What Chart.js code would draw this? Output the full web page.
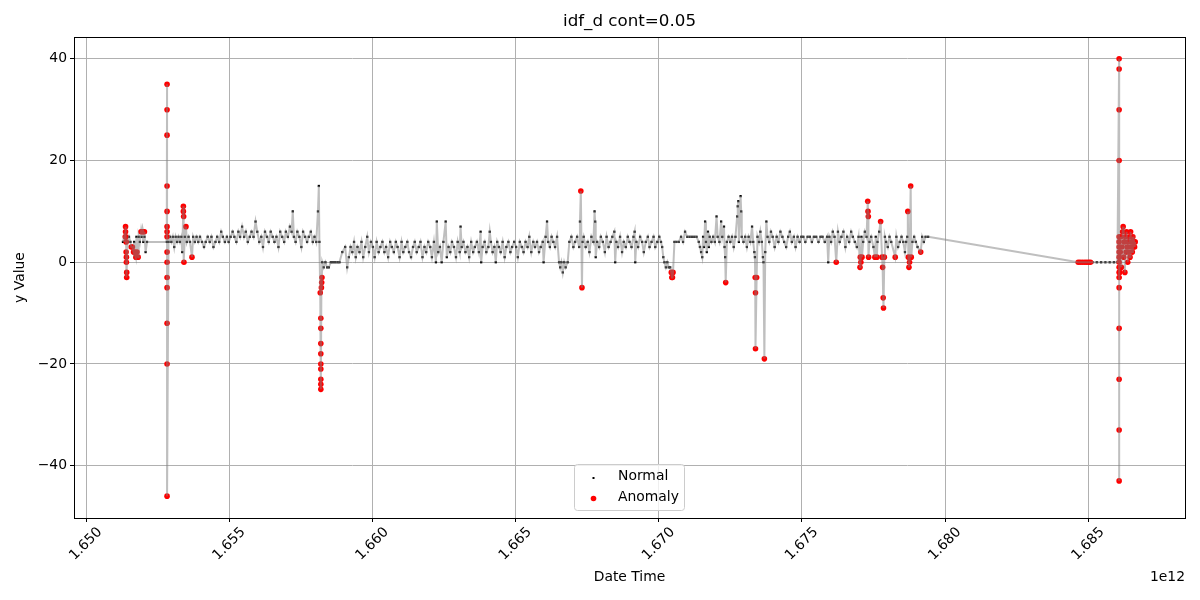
<!DOCTYPE html>
<html>
<head>
<meta charset="utf-8">
<title>idf_d cont=0.05</title>
<script src="https://cdn.jsdelivr.net/npm/chart.js@4.4.1/dist/chart.umd.min.js"></script>
<style>
  html, body { margin: 0; padding: 0; background: #fff; }
  #wrap { width: 1200px; height: 600px; }
</style>
</head>
<body>
<div id="wrap"><canvas id="chart" width="1200" height="600"></canvas></div>
<script>
// time values are stored in units of 1e9 ms, the axis shows them as "x 1e12"
const T_UNIT = 1e9;

const chartTitle = 'idf_d cont=0.05';
const xLabel = 'Date Time';
const yLabel = 'y Value';
const xTicks = [1650, 1655, 1660, 1665, 1670, 1675, 1680, 1685];
const yTicks = [-40, -20, 0, 20, 40];

// normal points [time, value]
const normalEarly = [
  [1651.29,4],[1651.33,5],[1651.36,4],[1651.45,4],[1651.50,5],[1651.55,4],[1651.60,3],[1651.68,4],
  [1651.76,5],[1651.84,5],[1651.88,4],[1651.94,5],[1652.00,4],[1652.04,5],[1652.08,2],[1652.13,4],
  [1652.82,4],[1652.88,4],[1652.93,5],[1652.98,4],[1653.03,5],[1653.08,3],[1653.13,5],[1653.18,4],
  [1653.23,5],[1653.28,4],[1653.33,5],[1653.36,2],[1653.45,5],[1653.52,4],[1653.58,5],[1653.63,4],
  [1653.74,5],[1653.80,4],[1653.86,5],[1653.92,4],[1653.98,5],[1654.05,4],[1654.12,3],[1654.18,4],
  [1654.25,5],[1654.32,4],[1654.38,5],[1654.45,3],[1654.52,4],[1654.58,5],[1654.65,4],[1654.72,6],
  [1654.78,5],[1654.85,4],[1654.92,5],[1654.98,4],[1655.05,5],[1655.12,6],[1655.18,5],[1655.25,4],
  [1655.32,6],[1655.38,5],[1655.45,7],[1655.52,5],[1655.58,6],[1655.65,4],[1655.72,5],[1655.78,6],
  [1655.85,5],[1655.92,8],[1655.98,6],[1656.05,4],[1656.12,5],[1656.18,3],[1656.25,6],[1656.32,5],
  [1656.38,4],[1656.45,6],[1656.52,5],[1656.58,4],[1656.65,5],[1656.72,3],[1656.78,6],[1656.85,5],
  [1656.92,4],[1656.98,6],[1657.05,5],[1657.12,7],[1657.18,6],[1657.22,10],[1657.26,5],[1657.32,4],
  [1657.38,6],[1657.45,5],[1657.52,3],[1657.58,6],[1657.65,5],[1657.72,4],[1657.78,5],[1657.85,6],
  [1657.92,4],[1657.98,5],[1658.04,4],[1658.10,10],[1658.13,15],[1658.15,4]
];

const normalMid = [
  [1658.25,0],[1658.30,-1],[1658.36,0],[1658.42,-1],[1658.48,-1],[1658.55,0],[1658.62,0],[1658.70,0],
  [1658.78,0],[1658.85,0],[1658.95,2],[1659.05,3],[1659.12,-1],[1659.18,1],[1659.24,3],[1659.30,2],
  [1659.36,4],[1659.42,1],[1659.48,3],[1659.55,2],[1659.62,4],[1659.68,1],[1659.75,3],[1659.82,5],
  [1659.88,2],[1659.95,4],[1660.02,3],[1660.08,1],[1660.15,4],[1660.22,2],[1660.28,3],[1660.35,4],
  [1660.42,2],[1660.48,3],[1660.55,1],[1660.62,4],[1660.68,3],[1660.75,2],[1660.82,4],[1660.88,3],
  [1660.95,1],[1661.02,4],[1661.08,2],[1661.15,3],[1661.22,4],[1661.28,2],[1661.35,1],[1661.42,3],
  [1661.48,4],[1661.55,2],[1661.62,3],[1661.68,4],[1661.75,1],[1661.82,3],[1661.88,2],[1661.95,4],
  [1662.02,3],[1662.08,1],[1662.15,4],[1662.22,0],[1662.25,8],[1662.30,2],[1662.36,3],[1662.42,0],
  [1662.48,4],[1662.56,8],[1662.60,1],[1662.66,3],[1662.72,2],[1662.78,4],[1662.85,3],[1662.92,1],
  [1662.98,4],[1663.05,2],[1663.08,7],[1663.12,3],[1663.18,4],[1663.25,2],[1663.32,3],[1663.38,1],
  [1663.45,4],[1663.52,2],[1663.58,3],[1663.65,4],[1663.72,2],[1663.78,6],[1663.80,0],[1663.85,3],
  [1663.92,4],[1663.98,2],[1664.05,3],[1664.10,6],[1664.14,4],[1664.20,2],[1664.26,3],[1664.31,0],
  [1664.36,4],[1664.42,3],[1664.48,2],[1664.55,4],[1664.62,1],[1664.68,3],[1664.75,4],[1664.82,2],
  [1664.88,3],[1664.95,4],[1665.02,3],[1665.08,1],[1665.15,4],[1665.22,3],[1665.28,2],[1665.35,4],
  [1665.42,3],[1665.48,5],[1665.55,2],[1665.62,4],[1665.68,3],[1665.75,4],[1665.82,2],[1665.88,3],
  [1665.95,4],[1665.98,0],[1666.05,5],[1666.10,8],[1666.14,4],[1666.20,3],[1666.26,5],[1666.32,4],
  [1666.38,3],[1666.45,5],[1666.52,0],[1666.56,-1],[1666.60,0],[1666.65,-2],[1666.70,0],[1666.75,-1],
  [1666.82,0],[1666.88,4],[1666.95,5],[1667.02,3],[1667.08,4],[1667.15,5],[1667.22,3],[1667.25,8],
  [1667.34,4],[1667.38,5],[1667.45,3],[1667.52,4],[1667.58,2],[1667.65,5],[1667.72,4],[1667.76,10],
  [1667.78,8],[1667.80,1],[1667.85,4],[1667.92,3],[1667.98,5],[1668.05,4],[1668.12,2],[1668.18,5],
  [1668.25,3],[1668.32,4],[1668.38,5],[1668.45,6],[1668.48,0],[1668.52,4],[1668.58,3],[1668.65,5],
  [1668.72,2],[1668.78,4],[1668.85,3],[1668.92,5],[1668.98,4],[1669.05,3],[1669.12,5],[1669.16,6],
  [1669.18,0],[1669.22,4],[1669.28,3],[1669.35,5],[1669.42,4],[1669.48,2],[1669.55,4],[1669.62,5],
  [1669.68,3],[1669.75,4],[1669.82,5],[1669.88,3],[1669.95,4]
];

const normalLate = [
  [1670.02,5],[1670.08,4],[1670.12,3],[1670.16,1],[1670.20,0],[1670.25,-1],[1670.30,0],[1670.35,-1],
  [1670.40,-1],[1670.55,4],[1670.62,4],[1670.70,4],[1670.78,5],[1670.85,4],[1670.92,6],[1671.00,5],
  [1671.08,5],[1671.16,5],[1671.24,5],[1671.32,5],[1671.40,4],[1671.44,3],[1671.48,2],[1671.52,1],
  [1671.55,5],[1671.58,3],[1671.62,8],[1671.65,4],[1671.68,2],[1671.72,6],[1671.75,3],[1671.78,5],
  [1671.84,4],[1671.90,5],[1671.96,4],[1672.02,9],[1672.06,5],[1672.12,4],[1672.18,8],[1672.22,5],
  [1672.28,7],[1672.30,3],[1672.32,1],[1672.38,4],[1672.44,5],[1672.50,4],[1672.56,5],[1672.62,3],
  [1672.68,5],[1672.74,9],[1672.76,11],[1672.78,12],[1672.80,4],[1672.86,13],[1672.88,10],[1672.90,5],
  [1672.96,4],[1673.02,5],[1673.08,3],[1673.14,5],[1673.20,4],[1673.26,7],[1673.30,4],[1673.34,2],
  [1673.36,1],[1673.45,5],[1673.50,4],[1673.55,6],[1673.60,4],[1673.64,1],[1673.66,0],[1673.72,2],
  [1673.76,8],[1673.80,5],[1673.86,4],[1673.92,6],[1673.98,5],[1674.05,3],[1674.12,5],[1674.18,4],
  [1674.25,6],[1674.32,5],[1674.38,4],[1674.45,3],[1674.52,5],[1674.58,6],[1674.65,4],[1674.72,5],
  [1674.78,3],[1674.85,5],[1674.92,4],[1674.98,5],[1675.05,5],[1675.12,4],[1675.20,5],[1675.28,5],
  [1675.35,4],[1675.42,5],[1675.50,5],[1675.58,4],[1675.65,5],[1675.72,5],[1675.80,4],[1675.88,5],
  [1675.92,0],[1675.96,5],[1676.02,4],[1676.08,6],[1676.14,5],[1676.26,6],[1676.32,4],[1676.38,5],
  [1676.45,6],[1676.52,3],[1676.58,5],[1676.65,4],[1676.72,6],[1676.78,5],[1676.85,4],[1676.92,3],
  [1676.98,5],[1677.08,5],[1677.14,4],[1677.20,6],[1677.26,5],[1677.36,4],[1677.42,5],[1677.50,3],
  [1677.58,5],[1677.64,4],[1677.70,6],[1677.90,5],[1677.94,4],[1678.00,3],[1678.06,5],[1678.12,4],
  [1678.30,5],[1678.36,3],[1678.42,4],[1678.48,5],[1678.54,4],[1678.60,2],[1678.64,4],[1678.68,5],
  [1678.86,4],[1678.92,5],[1678.98,4],[1679.04,3],[1679.20,5],[1679.26,4],[1679.32,5],[1679.41,5]
];

const normalEnd = [
  [1685.15,0],[1685.30,0],[1685.45,0],[1685.60,0],[1685.75,0],[1685.90,0],[1686.02,0]
];

// anomaly points [time, value]
const anomalyEarly = [
  [1651.37,5],[1651.38,7],[1651.38,6],[1651.39,5],[1651.40,4],[1651.40,2],[1651.41,1],[1651.41,0],
  [1651.42,-2],[1651.42,-3],[1651.58,3],[1651.62,3],[1651.66,2],[1651.70,2],[1651.74,1],[1651.78,2],
  [1651.82,1],[1651.92,6],[1651.96,6],[1652.00,6],[1652.04,6],
  [1652.83,35],[1652.83,30],[1652.83,25],[1652.83,15],[1652.83,10],[1652.83,7],[1652.83,6],[1652.83,5],
  [1652.83,2],[1652.83,0],[1652.83,-3],[1652.83,-5],[1652.83,-12],[1652.83,-20],[1652.83,-46],
  [1653.40,11],[1653.40,10],[1653.41,9],[1653.42,0],[1653.49,7],[1653.70,1],
  [1658.18,-6],[1658.20,-11],[1658.20,-13],[1658.20,-16],[1658.20,-18],[1658.20,-20],[1658.20,-21],
  [1658.20,-23],[1658.20,-24],[1658.20,-25],[1658.22,-5],[1658.23,-4],[1658.24,-3]
];

const anomalyMid = [
  [1667.28,14],[1667.32,-5],[1670.44,-2],[1670.46,-3],[1670.48,-3],[1670.50,-2],[1672.34,-4],
  [1673.37,-3],[1673.38,-6],[1673.38,-17],[1673.42,-3],[1673.69,-19],[1676.20,0],
  [1677.03,-1],[1677.04,1],[1677.06,0],[1677.10,1],[1677.30,12],[1677.31,10],[1677.32,9],[1677.33,1],
  [1677.55,1],[1677.62,1],[1677.75,8],[1677.80,1],[1677.82,-1],[1677.84,-7],[1677.85,-9],[1677.88,1],
  [1678.26,1],[1678.70,10],[1678.72,1],[1678.74,-1],[1678.76,0],[1678.80,15],[1678.82,1],[1679.15,2]
];

const anomalyEnd = [
  [1684.65,0],[1684.72,0],[1684.80,0],[1684.88,0],[1684.95,0],[1685.02,0],[1685.08,0],
  [1686.08,40],[1686.08,38],[1686.08,30],[1686.08,20],[1686.08,5],[1686.08,4],[1686.08,3],[1686.08,2],
  [1686.08,1],[1686.08,0],[1686.08,-1],[1686.08,-2],[1686.08,-3],[1686.08,-5],[1686.08,-13],
  [1686.08,-23],[1686.08,-33],[1686.08,-43],
  [1686.10,-2],[1686.12,2],[1686.14,5],[1686.16,-1],[1686.18,3],[1686.20,6],[1686.22,7],[1686.24,1],
  [1686.26,4],[1686.28,-2],[1686.30,5],[1686.32,2],[1686.34,6],[1686.36,3],[1686.38,0],[1686.40,4],
  [1686.42,2],[1686.44,5],[1686.46,1],[1686.48,6],[1686.50,3],[1686.52,4],[1686.54,2],[1686.56,5],
  [1686.58,3],[1686.60,4],[1686.62,3],[1686.64,4]
];

const normalPts = [...normalEarly, ...normalMid, ...normalLate, ...normalEnd];
const anomalyPts = [...anomalyEarly, ...anomalyMid, ...anomalyEnd];

function toXY(list) {
  return list.map(p => ({ x: p[0] * T_UNIT, y: p[1] }));
}

// the grey line runs through every point in time order
const allPts = normalPts.concat(anomalyPts)
  .map((p, i) => ({ t: p[0], y: p[1], i: i }))
  .sort((a, b) => a.t - b.t || a.i - b.i)
  .map(p => [p.t, p.y]);

const tickFont = { family: 'DejaVu Sans', size: 13.9 };
const minus = v => String(v).replace('-', '\u2212');

// frame, title, offset text and the legend box
const decorPlugin = {
  id: 'decor',
  afterDraw(chart) {
    const ctx = chart.ctx;
    const a = chart.chartArea;
    ctx.save();
    ctx.strokeStyle = '#000';
    ctx.lineWidth = 1;
    ctx.strokeRect(Math.round(a.left) + 0.5, Math.round(a.top) + 0.5,
      Math.round(a.right - a.left), Math.round(a.bottom - a.top));

    ctx.fillStyle = '#000';
    ctx.textBaseline = 'middle';
    ctx.textAlign = 'center';
    ctx.font = '16.7px "DejaVu Sans"';
    ctx.fillText(chartTitle, (a.left + a.right) / 2, 22);

    ctx.font = '13.9px "DejaVu Sans"';
    ctx.textAlign = 'right';
    ctx.fillText('1e12', a.right, 577);

    // legend
    const lx = 574.5, ly = 464.5, lw = 110, lh = 46;
    ctx.beginPath();
    ctx.roundRect(lx, ly, lw, lh, 3);
    ctx.fillStyle = 'rgba(255,255,255,0.8)';
    ctx.fill();
    ctx.strokeStyle = '#cccccc';
    ctx.stroke();

    ctx.fillStyle = '#000';
    ctx.fillRect(592.5, 477, 2, 2);
    ctx.fillStyle = '#ff0000';
    ctx.beginPath();
    ctx.arc(593.5, 498.5, 2.8, 0, Math.PI * 2);
    ctx.fill();

    ctx.fillStyle = '#000';
    ctx.textAlign = 'left';
    ctx.fillText('Normal', 618, 476.5);
    ctx.fillText('Anomaly', 618, 497.5);
    ctx.restore();
  }
};

new Chart(document.getElementById('chart'), {
  type: 'scatter',
  data: {
    datasets: [
      {
        label: 'series',
        data: toXY(allPts),
        showLine: true,
        borderColor: 'rgba(128,128,128,0.5)',
        borderWidth: 2,
        pointRadius: 0,
        order: 0
      },
      {
        label: 'Anomaly',
        data: toXY(anomalyPts),
        pointBackgroundColor: '#ff0000',
        pointBorderWidth: 0,
        pointRadius: 2.8,
        order: 1
      },
      {
        label: 'Normal',
        data: toXY(normalPts),
        pointBackgroundColor: '#000000',
        pointBorderWidth: 0,
        pointStyle: 'rect',
        pointRadius: 1.6,
        order: 2
      }
    ]
  },
  options: {
    responsive: false,
    animation: false,
    devicePixelRatio: 1,
    layout: { padding: { top: 37, right: 15, bottom: 10, left: 0 } },
    plugins: {
      legend: { display: false },
      tooltip: { enabled: false },
      title: { display: false }
    },
    scales: {
      x: {
        type: 'linear',
        min: 1649.58 * T_UNIT,
        max: 1688.38 * T_UNIT,
        afterBuildTicks: s => { s.ticks = xTicks.map(v => ({ value: v * T_UNIT })); },
        afterFit: s => { s.height = 72; },
        ticks: {
          callback: v => (v / 1e12).toFixed(3),
          minRotation: 45,
          maxRotation: 45,
          labelOffset: 14,
          padding: 2,
          color: '#000',
          font: tickFont
        },
        grid: { color: '#b0b0b0', tickColor: '#000', tickLength: 4, lineWidth: 1 },
        border: { color: '#000' },
        title: { display: true, text: xLabel, color: '#000', font: tickFont }
      },
      y: {
        type: 'linear',
        min: -50.3,
        max: 44.3,
        afterBuildTicks: s => { s.ticks = yTicks.map(v => ({ value: v })); },
        afterFit: s => { s.width = 74; },
        ticks: {
          callback: v => minus(v),
          padding: 3,
          color: '#000',
          font: tickFont
        },
        grid: { color: '#b0b0b0', tickColor: '#000', tickLength: 4, lineWidth: 1 },
        border: { color: '#000' },
        title: { display: true, text: yLabel, color: '#000', font: tickFont, padding: { top: 12, bottom: 4 } }
      }
    }
  },
  plugins: [decorPlugin]
});
</script>
</body>
</html>
